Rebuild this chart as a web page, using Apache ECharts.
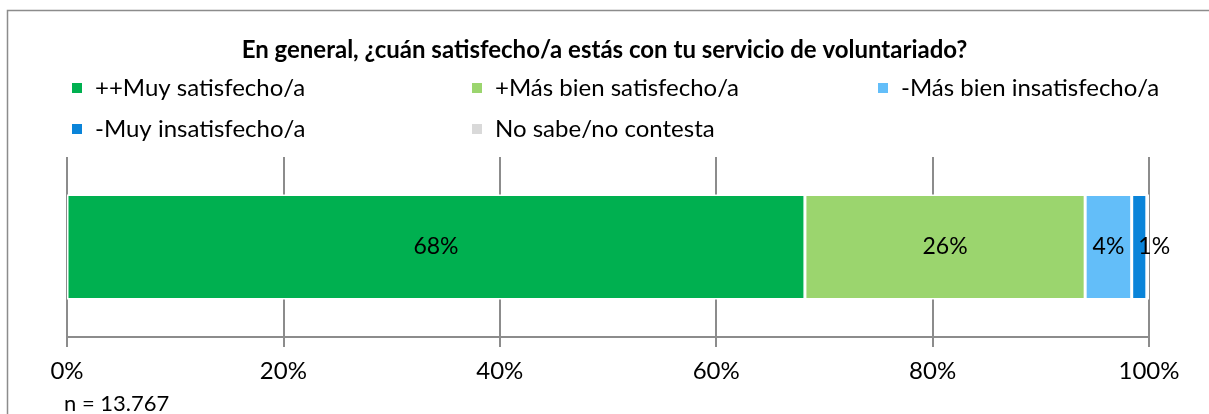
<!DOCTYPE html>
<html>
<head>
<meta charset="utf-8">
<script src="https://cdn.jsdelivr.net/npm/echarts@6/dist/echarts.min.js"></script>
<style>
  html, body { margin: 0; padding: 0; background: #fff; }
  #chart { width: 1209px; height: 414px; }
</style>
</head>
<body>
<div id="chart"></div>
<script type="text/javascript">
	// datos
	var categories = [ 'Total' ];
	var seriesNames = [ '++Muy satisfecho/a', '+Más bien satisfecho/a', '-Más bien insatisfecho/a', '-Muy insatisfecho/a', 'No sabe/no contesta' ];
	var seriesValues = [ 68.2, 25.9, 4.3, 1.4, 0.2 ];
	var seriesColors = [ '#00B050', '#9BD56E', '#63BEF9', '#0A84D9', '#D9D9D9' ];
	var showLabel = [ true, true, true, true, false ];
	var tickLabels = [ '0%', '20%', '40%', '60%', '80%', '100%' ];

	var font = 'Lato, "Open Sans", sans-serif';

	// una leyenda por elemento, en columnas fijas
	var legendPos = [ [ 70, 76 ], [ 470, 76 ], [ 876, 76 ], [ 70, 117 ], [ 470, 117 ] ];
	var legends = seriesNames.map(function(name, i) {
		return {
			data : [ name ],
			left : legendPos[i][0],
			top : legendPos[i][1],
			padding : 0,
			icon : 'rect',
			itemWidth : 12,
			itemHeight : 12,
			selectedMode : false,
			textStyle : {
				fontFamily : font,
				fontSize : 24,
				color : '#000',
				padding : [ 0, 0, 0, 7 ]
			}
		};
	});

	var series = seriesNames.map(function(name, i) {
		return {
			name : name,
			type : 'bar',
			stack : 'total',
			barWidth : 105,
			data : [ seriesValues[i] ],
			itemStyle : {
				color : seriesColors[i],
				borderColor : '#fff',
				borderWidth : 1.5
			},
			label : {
				show : showLabel[i],
				position : 'inside',
				offset : i === 3 ? [ 15, 0 ] : [ 0, 0 ],
				formatter : function(p) {
					return Math.round(p.value) + '%';
				},
				color : '#000',
				fontFamily : font,
				fontSize : 23
			}
		};
	});

	var option = {
		animation : false,
		title : {
			text : 'En general, ¿cuán satisfecho/a estás con tu servicio de voluntariado?',
			left : 'center',
			top : 33,
			textStyle : {
				fontFamily : font,
				fontWeight : 'bold',
				fontSize : 24,
				color : '#000'
			}
		},
		legend : legends,
		grid : {
			left : 67,
			right : 60,
			top : 157,
			height : 180
		},
		xAxis : {
			type : 'value',
			min : 0,
			max : 100,
			interval : 20,
			axisLine : { show : true, lineStyle : { color : '#8c8c8c', width : 2 } },
			axisTick : { show : true, length : 10, lineStyle : { color : '#8c8c8c', width : 2 } },
			splitLine : { show : true, lineStyle : { color : '#8c8c8c', width : 2 } },
			axisLabel : {
				margin : 22,
				fontFamily : font,
				fontSize : 24,
				color : '#000',
				formatter : function(v) {
					return tickLabels[Math.round(v / 20)];
				}
			}
		},
		yAxis : {
			type : 'category',
			data : categories,
			show : false
		},
		graphic : [ {
			type : 'rect',
			shape : { x : 7.5, y : 10.5, width : 1400, height : 600 },
			style : { fill : null, stroke : '#8c8c8c', lineWidth : 1.5 },
			silent : true
		}, {
			type : 'text',
			left : 64,
			top : 393,
			style : {
				text : 'n = 13.767',
				font : '22px ' + font,
				fill : '#000'
			}
		} ],
		series : series
	};

	var chart = echarts.init(document.getElementById('chart'));
	chart.setOption(option);
</script>
</body>
</html>
